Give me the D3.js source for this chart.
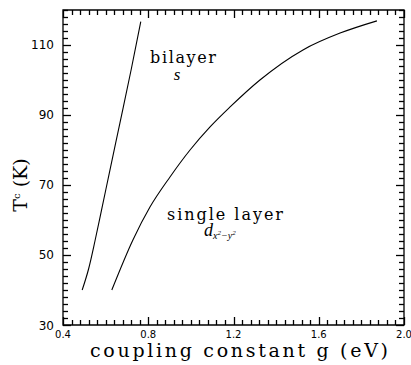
<!DOCTYPE html>
<html>
<head>
<meta charset="utf-8">
<script src="https://cdn.jsdelivr.net/npm/d3@7"></script>
<style>
body { margin: 0; background: #fff; }
svg { display: block; }
</style>
</head>
<body>
<svg width="411" height="365"></svg>
<script>
// curve data (g in eV, Tc in K)
var bilayerG  = [0.49, 0.52, 0.55, 0.58, 0.62, 0.667, 0.72, 0.765];
var bilayerTc = [40, 46, 54, 62.6, 74.2, 87.7, 103, 116.7];
var singleG  = [0.629, 0.728, 0.808, 0.902, 0.996, 1.09, 1.184, 1.324, 1.526, 1.70, 1.873];
var singleTc = [40, 54.3, 63.7, 72.3, 80, 86.6, 92.3, 100, 108.6, 113.4, 116.9];
var xMajor = [0.4, 0.8, 1.2, 1.6, 2.0];
var yMajor = [30, 50, 70, 90, 110];

var svg = d3.select("svg"),
    pLeft = 63, pRight = 404, pTop = 10, pBottom = 325;

var x = d3.scaleLinear().domain([0.4, 2.0]).range([pLeft, pRight]);
var y = d3.scaleLinear().domain([30, 120]).range([pBottom, pTop]);

// frame first, ticks on top of it
svg.append("path")
    .attr("d", "M" + pLeft + "," + pTop + "H" + pRight + "V" + pBottom + "H" + pLeft + "Z")
    .style("fill", "none").style("stroke", "#000").style("stroke-width", "1.3px");

// minor ticks every 0.04 eV and every 2 K, majors every 10th minor
var xTicks = d3.range(0, 41).map(function(i) { return { v: 0.4 + i * 0.04, len: i % 10 === 0 ? 8 : 5 }; });
var yTicks = d3.range(0, 46).map(function(i) { return { v: 30 + i * 2, len: i % 10 === 0 ? 8 : 5 }; });

var tg = svg.append("g");

function tickLine(x1, y1, x2, y2) {
    tg.append("path")
        .attr("d", "M" + x1 + "," + y1 + "L" + x2 + "," + y2)
        .style("stroke", "#000").style("stroke-width", "1.3px").style("fill", "none");
}
xTicks.forEach(function(d) {
    var px = Math.round(x(d.v)) + 0.5;
    tickLine(px, pBottom, px, pBottom - d.len);
    tickLine(px, pTop, px, pTop + d.len);
});
yTicks.forEach(function(d) {
    var py = Math.round(y(d.v)) + 0.5;
    tickLine(pLeft, py, pLeft + d.len, py);
    tickLine(pRight, py, pRight - d.len, py);
});

svg.selectAll(".xlab").data(xMajor).enter().append("text")
    .attr("class", "xlab")
    .attr("x", function(d) { return x(d); })
    .attr("y", pBottom + 13)
    .attr("text-anchor", "middle")
    .style("font", "10px 'DejaVu Sans'")
    .text(d3.format(".1f"));

svg.selectAll(".ylab").data(yMajor).enter().append("text")
    .attr("class", "ylab")
    .attr("x", pLeft - 9)
    .attr("y", function(d) { return y(d) + (d === 30 ? 5 : 4); })
    .attr("text-anchor", "end")
    .style("font", "12px 'DejaVu Sans'")
    .text(d3.format("d"));

var line = d3.line()
    .x(function(d) { return x(d[0]); })
    .y(function(d) { return y(d[1]); })
    .curve(d3.curveMonotoneX);

svg.append("path")
    .datum(d3.zip(bilayerG, bilayerTc))
    .attr("d", line)
    .attr("fill", "none").attr("stroke", "#000").attr("stroke-width", 1.1);

svg.append("path")
    .datum(d3.zip(singleG, singleTc))
    .attr("d", line)
    .attr("fill", "none").attr("stroke", "#000").attr("stroke-width", 1.1);

// labels
var serif = "'DejaVu Serif', 'Liberation Serif', serif";

svg.append("text").attr("x", 150).attr("y", 63)
    .attr("textLength", 66).attr("lengthAdjust", "spacing")
    .style("font-family", serif).style("font-size", "16px").text("bilayer");
svg.append("text").attr("x", 177).attr("y", 80).attr("text-anchor", "middle")
    .style("font-family", "'Liberation Serif', serif").style("font-style", "italic").style("font-size", "17px").text("s");

svg.append("text").attr("x", 167).attr("y", 220)
    .attr("textLength", 116).attr("lengthAdjust", "spacing")
    .style("font-family", serif).style("font-size", "16px").text("single layer");

var dl = svg.append("text").attr("x", 204).attr("y", 236)
    .style("font-family", "'Liberation Serif', serif").style("font-style", "italic").style("font-size", "18px");
dl.append("tspan").text("d");
dl.append("tspan").attr("dy", 3).style("font-size", "10px").text("x");
dl.append("tspan").attr("dy", -4).style("font-size", "7px").text("2");
dl.append("tspan").attr("dy", 4).style("font-size", "10px").text("\u2212y");
dl.append("tspan").attr("dy", -4).style("font-size", "7px").text("2");

svg.append("text").attr("x", 90).attr("y", 357)
    .attr("textLength", 298).attr("lengthAdjust", "spacing")
    .style("font-family", serif).style("font-size", "19px")
    .text("coupling constant g (eV)");

var yt = svg.append("text")
    .attr("transform", "translate(27,185) rotate(-90)")
    .attr("text-anchor", "middle")
    .style("font-family", serif).style("font-size", "19px");
yt.append("tspan").text("T");
yt.append("tspan").attr("dy", -7).style("font-size", "10px").text("c");
yt.append("tspan").attr("dy", 7).text(" (K)");
</script>
</body>
</html>
